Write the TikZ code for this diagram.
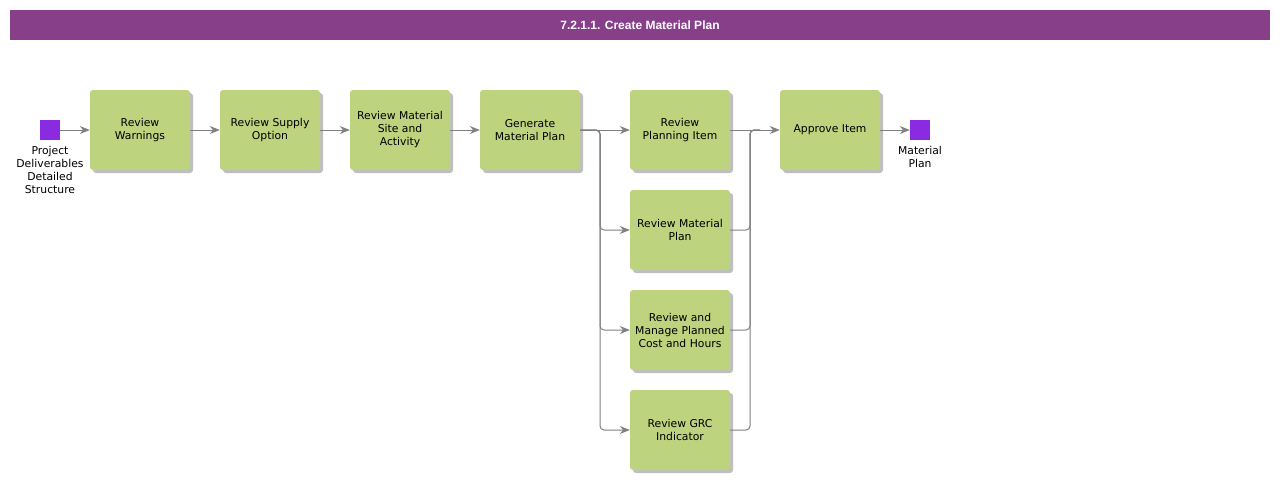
\documentclass[tikz,border=0pt]{standalone}
\usepackage{fontspec}
\setmainfont{DejaVu Sans}
\newfontfamily\titlefont{Liberation Sans}
\usetikzlibrary{arrows.meta,shadows}
\definecolor{titlebg}{HTML}{873F8A}
\definecolor{taskbg}{HTML}{BDD37E}
\definecolor{endbg}{HTML}{8A2BE2}
\definecolor{linegray}{HTML}{808080}
\tikzset{
  task/.style={rectangle, rounded corners=3pt, fill=taskbg, minimum width=100pt, minimum height=80pt,
    inner sep=1pt, align=center, font=\fontsize{10.8}{13}\selectfont,
    drop shadow={shadow xshift=3pt, shadow yshift=-3pt, fill=black!25, opacity=1}},
  term/.style={rectangle, fill=endbg, minimum width=20pt, minimum height=20pt, inner sep=0pt},
  termlabel/.style={align=center, font=\fontsize{10.8}{13}\selectfont, inner sep=0pt},
  flow/.style={draw=linegray, line width=1pt, -{Stealth[length=10pt,width=8pt]}, rounded corners=4pt},
  link/.style={draw=linegray, line width=1pt, rounded corners=4pt}
}
\begin{document}
\begin{tikzpicture}[x=1pt,y=-1pt]
\useasboundingbox (0,0) rectangle (1280,480);
\node[fill=titlebg, minimum width=1260pt, minimum height=30pt, inner sep=0pt,
  text=white, font=\titlefont\bfseries\fontsize{12}{14}\selectfont] (title) at (640,25) {7.2.1.1. Create Material Plan};

\node[term] (start) at (50,130) {};
\node[termlabel, anchor=north] (startlbl) at (50,146) {Project\\Deliverables\\Detailed\\Structure};
\node[task] (warn) at (140,130) {Review\\Warnings};
\node[task] (supply) at (270,130) {Review Supply\\Option};
\node[task] (site) at (400,130) {Review Material\\Site and\\Activity};
\node[task] (gen) at (530,130) {Generate\\Material Plan};
\node[task] (item) at (680,130) {Review\\Planning Item};
\node[task] (plan) at (680,230) {Review Material\\Plan};
\node[task] (cost) at (680,330) {Review and\\Manage Planned\\Cost and Hours};
\node[task] (grc) at (680,430) {Review GRC\\Indicator};
\node[task] (appr) at (830,130) {Approve Item};
\node[term] (stop) at (920,130) {};
\node[termlabel, anchor=north] (stoplbl) at (920,146) {Material\\Plan};

\draw[flow] (start) -- (warn);
\draw[flow] (warn) -- (supply);
\draw[flow] (supply) -- (site);
\draw[flow] (site) -- (gen);

% fork
\draw[flow] (gen.east) -- (item.west);
\foreach \t in {plan,cost,grc}
  \draw[flow] (gen.east) -- (600,130) |- (\t.west);

% join
\foreach \t in {plan,cost,grc}
  \draw[link] (\t.east) -- (750,0 |- \t.east) -- (750,130) -- (760,130);
\draw[flow] (item.east) -- (appr.west);

\draw[flow] (appr) -- (stop);
\end{tikzpicture}
\end{document}
